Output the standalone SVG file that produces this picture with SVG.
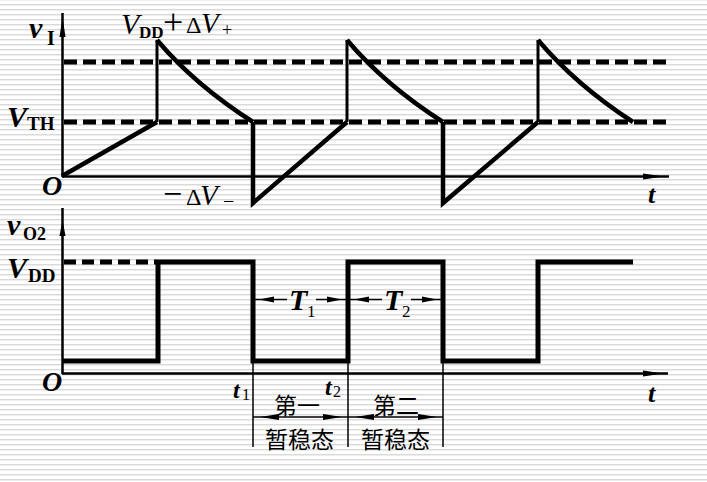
<svg xmlns="http://www.w3.org/2000/svg" width="707" height="482" viewBox="0 0 707 482">
<defs>
<pattern id="bg" width="20" height="5" patternUnits="userSpaceOnUse" y="4">
<rect width="20" height="5" fill="#ffffff"/>
<rect y="0" width="20" height="1" fill="#d9d9d9"/>
<rect y="1" width="20" height="1" fill="#eeeeee"/>
</pattern>
<style>
.ax{stroke:#000;stroke-width:2.5;fill:none}
.ah{fill:#000;stroke:none}
.dash{stroke:#000;stroke-width:5;fill:none;stroke-dasharray:13 6}
.w{stroke:#000;fill:none;stroke-linejoin:miter}
.dim{stroke:#000;stroke-width:1.5;fill:none}
.lt{font-family:"Liberation Serif","Times New Roman",serif;fill:#000}
.bi{font-style:italic;font-weight:bold}
.it{font-style:italic}
.b{font-weight:bold}
.cn{font-family:"Noto Sans CJK SC","Noto Sans CJK JP",sans-serif;fill:#000;font-size:23px}
</style>
</defs>
<rect width="707" height="482" fill="url(#bg)"/>

<g id="axes">
<line class="ax" x1="62.5" y1="13" x2="62.5" y2="177"/>
<polygon class="ah" points="59.5,37 65.5,37 62.5,17"/>
<line class="ax" x1="62" y1="176.5" x2="669" y2="176.5"/>
<polygon class="ah" points="643,173.5 643,179.5 664,176.5"/>
<line class="ax" x1="62.5" y1="208" x2="62.5" y2="374"/>
<polygon class="ah" points="59.5,236 65.5,236 62.5,220"/>
<line class="ax" x1="62" y1="373.5" x2="668" y2="373.5"/>
<polygon class="ah" points="643,370.5 643,376.5 663,373.5"/>
</g>

<g id="reference-lines">
<line class="dash" x1="64" y1="62" x2="672" y2="62"/>
<line class="dash" x1="64" y1="122" x2="668" y2="122"/>
<line class="dash" x1="64" y1="262" x2="156" y2="262" style="stroke-dasharray:12 6"/>
</g>

<g id="waveform-vI">
<line class="w" stroke-width="4.5" x1="62" y1="176" x2="157" y2="122"/>
<line class="w" stroke-width="3" x1="157" y1="122" x2="157" y2="40"/>
<path class="w" stroke-width="4.5" d="M157,40 Q195,85 253,122"/>
<polyline class="w" stroke-width="4.5" points="253,122 253,203 347,122"/>
<line class="w" stroke-width="3" x1="347" y1="122" x2="347" y2="40"/>
<path class="w" stroke-width="4.5" d="M347,40 Q385,85 443,122"/>
<polyline class="w" stroke-width="4.5" points="443,122 443,203 538,122"/>
<line class="w" stroke-width="3" x1="538" y1="122" x2="538" y2="40"/>
<path class="w" stroke-width="4.5" d="M538,40 Q576,85 633,122"/>
</g>

<g id="waveform-vO2">
<polyline class="w" stroke-width="5" points="62,361 158,361 158,262 253,262 253,361 348,361 348,262 443,262 443,361 538,361 538,262 633,262"/>
</g>

<g id="dimensions">
<line class="dim" x1="253" y1="361" x2="253" y2="447"/>
<line class="dim" x1="348" y1="361" x2="348" y2="447"/>
<line class="dim" x1="443" y1="361" x2="443" y2="447"/>
<line class="dim" x1="253" y1="299.5" x2="287" y2="299.5"/>
<line class="dim" x1="316" y1="299.5" x2="348" y2="299.5"/>
<polygon class="ah" points="259,299.5 274,296.5 274,302.5"/>
<polygon class="ah" points="342,299.5 327,296.5 327,302.5"/>
<line class="dim" x1="348" y1="299.5" x2="382" y2="299.5"/>
<line class="dim" x1="411" y1="299.5" x2="443" y2="299.5"/>
<polygon class="ah" points="354,299.5 369,296.5 369,302.5"/>
<polygon class="ah" points="437,299.5 422,296.5 422,302.5"/>
<line class="dim" x1="253" y1="417" x2="348" y2="417"/>
<polygon class="ah" points="260,417 279,414 279,420"/>
<polygon class="ah" points="342,417 323,414 323,420"/>
<line class="dim" x1="348" y1="417" x2="443" y2="417"/>
<polygon class="ah" points="355,417 374,414 374,420"/>
<polygon class="ah" points="437,417 418,414 418,420"/>
</g>

<g id="labels">
<text class="lt bi" x="29" y="38" font-size="30">v</text>
<text class="lt b" x="47" y="45" font-size="20">I</text>
<text class="lt it" x="121" y="34" font-size="30">V</text>
<text class="lt b" x="139" y="38" font-size="17">DD</text>
<text class="lt" x="163" y="34" font-size="36">+</text>
<text class="lt" x="186" y="33" font-size="24">Δ</text>
<text class="lt it" x="201" y="33" font-size="29">V</text>
<text class="lt" x="222" y="36" font-size="18">+</text>
<text class="lt bi" x="7" y="127" font-size="30">V</text>
<text class="lt b" x="27" y="130" font-size="19">TH</text>
<text class="lt bi" x="42" y="195" font-size="28">O</text>
<text class="lt" x="163" y="205" font-size="34">−</text>
<text class="lt" x="186" y="205" font-size="24">Δ</text>
<text class="lt it" x="200" y="205" font-size="29">V</text>
<text class="lt" x="223" y="208" font-size="20">−</text>
<text class="lt bi" x="648" y="203" font-size="26">t</text>
<text class="lt bi" x="7" y="235" font-size="30">v</text>
<text class="lt b" x="23" y="240" font-size="18">O2</text>
<text class="lt bi" x="7" y="278" font-size="30">V</text>
<text class="lt b" x="28" y="282" font-size="19">DD</text>
<text class="lt bi" x="42" y="391" font-size="28">O</text>
<text class="lt bi" x="648" y="402" font-size="26">t</text>
<text class="lt bi" x="233" y="398" font-size="24">t</text>
<text class="lt" x="242" y="400" font-size="16">1</text>
<text class="lt bi" x="325" y="395" font-size="24">t</text>
<text class="lt" x="333" y="397" font-size="16">2</text>
<text class="lt bi" x="289" y="310" font-size="30">T</text>
<text class="lt" x="307" y="317" font-size="17">1</text>
<text class="lt bi" x="384" y="310" font-size="30">T</text>
<text class="lt" x="402" y="317" font-size="17">2</text>
<text class="cn" x="274" y="414">第一</text>
<text class="cn" x="265" y="448">暂稳态</text>
<text class="cn" x="373" y="414">第二</text>
<text class="cn" x="361" y="448">暂稳态</text>
</g>
</svg>
